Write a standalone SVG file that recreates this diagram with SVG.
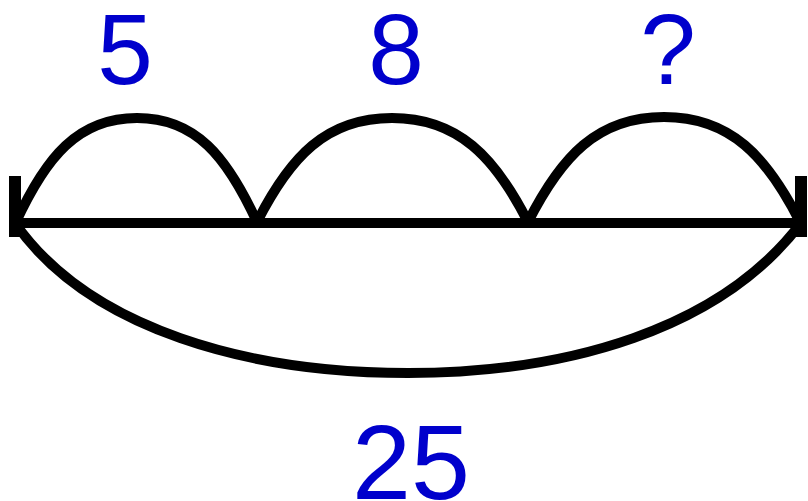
<svg xmlns="http://www.w3.org/2000/svg" width="808" height="501" viewBox="0 0 808 501">
<style>
.ln{fill:none;stroke:#000;stroke-width:10}
.tk{fill:none;stroke:#000;stroke-width:12}
.lb{font-family:"Liberation Sans",Arial,sans-serif;font-size:100px;fill:#0000CC;text-anchor:middle}
</style>
<rect width="808" height="501" fill="#fff"/>
<g id="connectors">
<path class="ln" d="M15,223 H801"/>
<path class="tk" d="M15,176 V237"/>
<path class="tk" d="M801,176 V237"/>
<path class="ln" d="M16,222 C46,157 78,118 137,118 C196,118 227,157 257,222"/>
<path class="ln" d="M257,222 C290,157 326,118 392,118 C458,118 495,157 528,222"/>
<path class="ln" d="M528,222 C561,157 597,117 664,117 C731,117 767,157 800,222"/>
<path class="ln" d="M15,223 C90,330 250,373 408,373 C566,373 720,330 801,223"/>
</g>
<g id="label-5"><text class="lb" x="125" y="84">5</text></g>
<g id="label-8"><text class="lb" x="396" y="84">8</text></g>
<g id="label-q"><text class="lb" x="668" y="84">?</text></g>
<g id="label-25"><text class="lb" x="411" y="499" style="font-size:106px">25</text></g>
</svg>
